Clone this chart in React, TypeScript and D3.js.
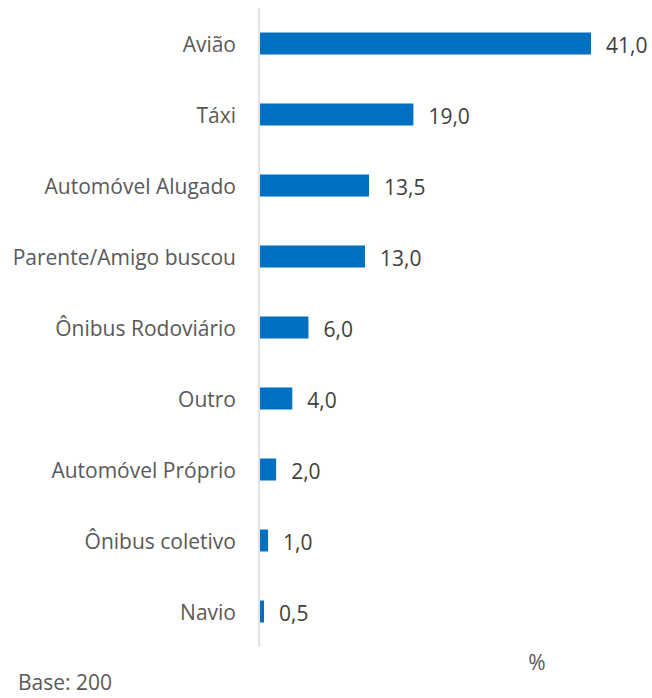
import React from "react";
import * as d3 from "d3";

const categories = [
  "Avião",
  "Táxi",
  "Automóvel Alugado",
  "Parente/Amigo buscou",
  "Ônibus Rodoviário",
  "Outro",
  "Automóvel Próprio",
  "Ônibus coletivo",
  "Navio",
];
const values = [41.0, 19.0, 13.5, 13.0, 6.0, 4.0, 2.0, 1.0, 0.5];
const unitLabel = "%";
const baseLabel = "Base: 200";

const W = 652;
const H = 698;
const FONT = "'Open Sans', 'Noto Sans', sans-serif";

export default function App() {
  const x = d3.scaleLinear().domain([0, 41]).range([260, 591]);
  const y = d3.scaleBand<string>().domain(categories).range([8, 647]).paddingInner(0.69).paddingOuter(0.345);
  const fmt = (v: number) => v.toFixed(1).replace(".", ",");
  return (
    <svg width={W} height={H} style={{ position: "absolute", left: 0, top: 0, background: "#fff" }}>
      <line x1={259} x2={259} y1={8} y2={647} stroke="#d9d9d9" strokeWidth={1.5} />
      {categories.map((c, i) => {
        const yc = (y(c) as number) + y.bandwidth() / 2;
        return (
          <g key={c}>
            <rect x={x(0)} y={y(c)} width={x(values[i]) - x(0)} height={y.bandwidth()} fill="#0070c0" />
            <text x={236} y={yc} textAnchor="end" dominantBaseline="central" fontFamily={FONT} fontSize={21} fill="#595959">
              {c}
            </text>
            <text x={x(values[i]) + 15} y={yc + 1} textAnchor="start" dominantBaseline="central" fontFamily={FONT} fontSize={21} fill="#404040">
              {fmt(values[i])}
            </text>
          </g>
        );
      })}
      <text x={537} y={662} textAnchor="middle" dominantBaseline="central" fontFamily={FONT} fontSize={21} fill="#595959">
        {unitLabel}
      </text>
      <text x={18} y={682} textAnchor="start" dominantBaseline="central" fontFamily={FONT} fontSize={21} fill="#595959">
        {baseLabel}
      </text>
    </svg>
  );
}
